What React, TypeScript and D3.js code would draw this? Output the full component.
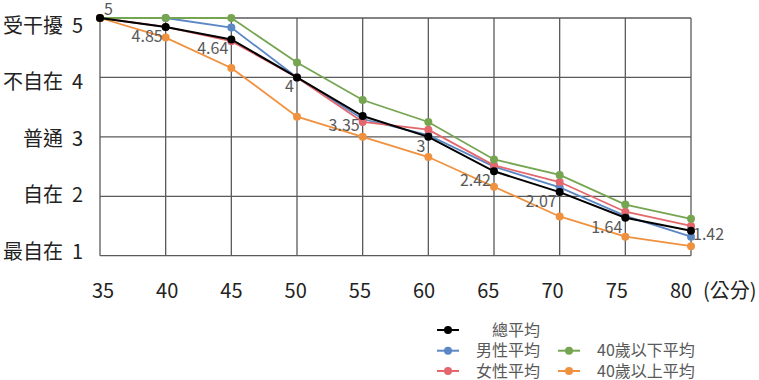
import React from "react";
import * as d3 from "d3";

const waists = [35, 40, 45, 50, 55, 60, 65, 70, 75, 80];
const totalAvg = [5, 4.85, 4.64, 4, 3.35, 3, 2.42, 2.07, 1.64, 1.42];
const maleAvg = [5, 5, 4.84, 4, 3.3, 3.03, 2.5, 2.15, 1.67, 1.32];
const femaleAvg = [5, 4.85, 4.61, 4, 3.25, 3.12, 2.52, 2.24, 1.74, 1.5];
const under40Avg = [5, 5, 5, 4.25, 3.62, 3.25, 2.62, 2.36, 1.86, 1.62];
const over40Avg = [5, 4.67, 4.16, 3.34, 3.0, 2.66, 2.16, 1.66, 1.32, 1.16];
const yLevels = [1, 2, 3, 4, 5];
const yNames = ["最自在", "自在", "普通", "不自在", "受干擾"];
const xUnit = "(公分)";

const series = [
  { name: "男性平均", values: maleAvg, color: "#5b87c5", col: 0, row: 1 },
  { name: "女性平均", values: femaleAvg, color: "#e3676c", col: 0, row: 2 },
  { name: "40歲以下平均", values: under40Avg, color: "#76a552", col: 1, row: 1 },
  { name: "40歲以上平均", values: over40Avg, color: "#f0913f", col: 1, row: 2 },
  { name: "總平均", values: totalAvg, color: "#000000", col: 0, row: 0 },
];

const FONT = "'Noto Sans CJK TC', 'Noto Sans', sans-serif";

export default function App() {
  const W = 759, H = 380;
  const x = d3.scaleLinear().domain([35, 80]).range([100, 691]);
  const y = d3.scaleLinear().domain([1, 5]).range([255.7, 18]);
  const xLab = d3.scaleLinear().domain([35, 80]).range([103, 681]);
  const yLab = d3.scaleLinear().domain([1, 5]).range([251.5, 25.7]);
  const line = d3.line<number>().x((_, i) => x(waists[i])).y((d) => y(d));

  const legendCols = [437, 558];
  const legendRows = [330, 350.7, 371];

  const n = waists.length;

  return (
    <svg width={W} height={H} style={{ position: "absolute", left: 0, top: 0, background: "#fff" }} fontFamily={FONT}>
      <rect x={0} y={0} width={W} height={H} fill="#fff" />
      {/* grid */}
      {waists.map((w) => (
        <line key={"gx" + w} x1={x(w)} x2={x(w)} y1={y(5)} y2={y(1)} stroke="#5a5a5a" strokeWidth={1.3} />
      ))}
      {yLevels.map((v) => (
        <line key={"gy" + v} x1={x(35)} x2={x(80)} y1={y(v)} y2={y(v)} stroke="#5a5a5a" strokeWidth={1.3} />
      ))}
      {/* y labels */}
      {yLevels.map((v, i) => (
        <text key={"yl" + v} x={83} y={yLab(v) + 7.3} textAnchor="end" fontSize={20} fill="#222">
          {yNames[i]}
          <tspan dx={9}>{v}</tspan>
        </text>
      ))}
      {/* x labels */}
      {waists.map((w) => (
        <text key={"xl" + w} x={xLab(w)} y={297.5} textAnchor="middle" fontSize={20} fill="#222">
          {w}
        </text>
      ))}
      <text x={xLab(80) + 22} y={297.5} fontSize={20} fill="#222">
        {xUnit}
      </text>
      {/* series */}
      {series.map((s) => (
        <g key={s.name}>
          <path d={line(s.values) || ""} fill="none" stroke={s.color} strokeWidth={s.color === "#000000" ? 2 : 1.8} />
          {s.values.map((v, i) => (
            <circle key={i} cx={x(waists[i])} cy={y(v)} r={4} fill={s.color} />
          ))}
        </g>
      ))}
      {/* data labels for total */}
      {totalAvg.map((v, i) => {
        const px = x(waists[i]);
        const py = y(v);
        if (i === 0)
          return (
            <text key={"dl" + i} x={px + 4} y={py - 3} fontSize={16} fill="#595959">
              {v}
            </text>
          );
        if (i === n - 1)
          return (
            <text key={"dl" + i} x={px + 2} y={py + 9} fontSize={16} fill="#595959">
              {v}
            </text>
          );
        return (
          <text key={"dl" + i} x={px - 3} y={py + 15} textAnchor="end" fontSize={16} fill="#595959">
            {v}
          </text>
        );
      })}
      {/* legend */}
      {series.map((s, k) => {
        const lx = legendCols[s.col];
        const ly = legendRows[s.row];
        const tx = lx + 39 + (s.row === 0 ? 16 : 0);
        return (
          <g key={"lg" + s.name}>
            <line x1={lx} x2={lx + 22} y1={ly} y2={ly} stroke={s.color} strokeWidth={2} />
            <circle cx={lx + 11} cy={ly} r={4} fill={s.color} />
            <text x={tx} y={ly + 5.6} fontSize={16} fill="#595959">
              {s.name}
            </text>
          </g>
        );
      })}
    </svg>
  );
}
